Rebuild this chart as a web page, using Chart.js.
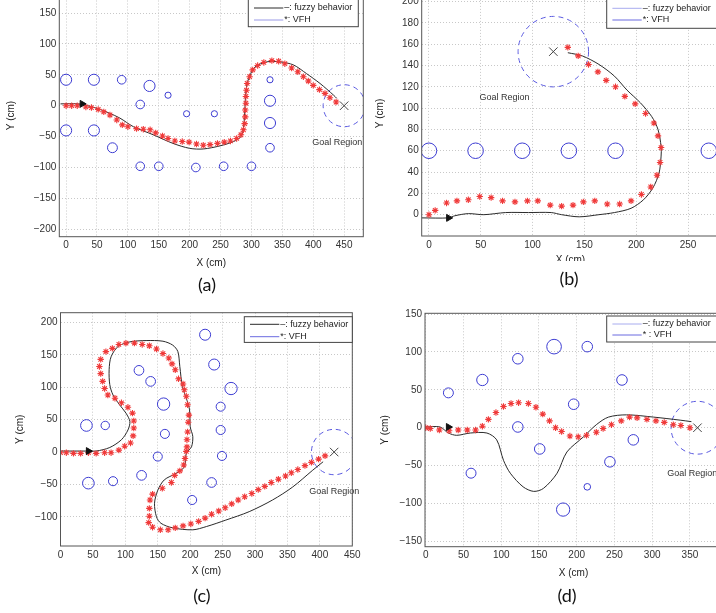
<!DOCTYPE html>
<html>
<head>
<meta charset="utf-8">
<script src="https://cdn.jsdelivr.net/npm/chart.js@4.4.1/dist/chart.umd.min.js"></script>
<style>
  body { margin: 0; width: 716px; height: 613px; overflow: hidden; position: relative; background: #fff; }
  canvas { position: absolute; }
  .clip { position: absolute; overflow: hidden; }
  .cap { position: absolute; transform: translate(-50%, -50%); font-family: Lato, "Open Sans", sans-serif; font-size: 18px; color: #111; }
</style>
</head>
<body>
<canvas id="chartA" width="380" height="295" style="left:0;top:-15px"></canvas>
<div class="clip" style="left:370px;top:0;width:346px;height:261px">
  <canvas id="chartB" width="380" height="300" style="left:0;top:-20px"></canvas>
</div>
<canvas id="chartC" width="370" height="313" style="left:0;top:300px"></canvas>
<canvas id="chartD" width="370" height="313" style="left:370px;top:300px"></canvas>
<div class="cap" style="left:207px;top:284px">(a)</div>
<div class="cap" style="left:569px;top:278px">(b)</div>
<div class="cap" style="left:202px;top:595px">(c)</div>
<div class="cap" style="left:567px;top:595px">(d)</div>

<script>
// ---------- panel (a) ----------
const xTicksA = [0, 50, 100, 150, 200, 250, 300, 350, 400, 450];
const yTicksA = [-200, -150, -100, -50, 0, 50, 100, 150];
const obstaclesA = [ // x, y, radius (cm)
    [0, 42, 9], [45, 42, 9], [90, 42, 7], [135, 32, 9], [165, 17, 5], [120, 2, 7],
    [0, -40, 9], [45, -40, 9], [75, -68, 8], [195, -13, 5], [240, -13, 5],
    [120, -98, 7], [150, -98, 7], [210, -100, 7], [255, -98, 7], [300, -98, 7],
    [330, 42, 5], [330, 8, 9], [330, -28, 9], [330, -68, 7]
];
const fuzzyA = [
    [-9, 3], [19, 3], [35, 0], [55, -6], [70, -12], [87, -20], [109, -34], [141, -47],
    [173, -61], [200, -69], [222, -70], [249, -65], [271, -58], [283, -50], [287, -37],
    [289, -12], [290, 9], [292, 31], [297, 48], [306, 63], [325, 71], [346, 71],
    [368, 66], [389, 52], [411, 36], [433, 17], [438, 12]
];
const vfhA = [
    [0, 0], [9, 0], [18, 0], [32, -2], [41, -3], [52, -6], [61, -10], [71, -15], [82, -23],
    [91, -31], [100, -34], [114, -37], [125, -38], [136, -39], [145, -44], [156, -49],
    [165, -53], [176, -57], [188, -58], [199, -59], [211, -62], [222, -64], [233, -63],
    [245, -61], [256, -59], [266, -57], [276, -53], [283, -47], [287, -39], [289, -29],
    [290, -18], [290, -7], [291, 4], [291, 15], [292, 25], [293, 36], [297, 47], [302, 58],
    [310, 65], [320, 70], [333, 73], [344, 72], [354, 68], [365, 61], [375, 55], [384, 47],
    [392, 40], [400, 33], [410, 26], [419, 20], [427, 13], [437, 6]
];
const goalA = [450, 0, 34];       // centre x, centre y, radius
const startA = [26, 3];
const goalLabelA = [439, -60];

// ---------- panel (b) ----------
const xTicksB = [0, 50, 100, 150, 200, 250, 300];
const yTicksB = [0, 20, 40, 60, 80, 100, 120, 140, 160, 180, 200];
const obstaclesB = [[0, 60, 7.5], [45, 60, 7.5], [90, 60, 7.5], [135, 60, 7.5], [180, 60, 7.5], [270, 60, 7.5]];
const fuzzyB = [
    [-7, -3], [19, -3], [25, -1], [38, 1], [53, 0], [74, 2], [96, 2], [118, 2], [128, 0],
    [145, -2], [164, 0], [179, 2], [195, 6], [207, 14], [216, 25], [222, 39], [224, 55],
    [224, 64], [221, 80], [215, 92], [204, 105], [191, 117], [179, 130], [164, 141],
    [148, 149], [134, 152]
];
const vfhB = [
    [0, 0], [6, 4], [17, 11], [27, 13], [38, 14], [49, 17], [60, 16], [71, 13], [83, 12],
    [95, 13], [105, 13], [117, 9], [128, 8], [139, 9], [149, 12], [160, 13], [172, 10],
    [184, 10], [195, 13], [205, 19], [214, 26], [220, 37], [223, 49], [224, 63], [221, 74],
    [217, 86], [209, 95], [199, 104], [189, 111], [180, 120], [171, 126], [163, 134],
    [154, 141], [144, 149], [134, 157]
];
const goalB = [120, 153, 34];
const startB = [19, -3];
const goalLabelB = [73, 110];

// ---------- panel (c) ----------
const xTicksC = [0, 50, 100, 150, 200, 250, 300, 350, 400, 450];
const yTicksC = [-100, -50, 0, 50, 100, 150, 200];
const obstaclesC = [
    [40, 41, 9], [69, 41, 6.5], [43, -48, 9], [81, -45, 7], [121, 126, 7.5], [139, 109, 7.5],
    [159, 74, 9.5], [161, 28, 7], [150, -7, 7], [125, -36, 7.5], [203, -74, 7], [223, 181, 8.5],
    [237, 135, 8.5], [263, 98, 9.5], [247, 70, 7], [247, 34, 7], [249, -6, 7], [233, -47, 7.5]
];
const fuzzyC = [
    [0, 1.5], [40, 1.5], [55, 1.5], [76, 7], [94, 19], [104, 34], [107, 47], [101, 60],
    [91, 73], [81, 88], [76, 104], [75, 127], [78, 147], [89, 163], [107, 170], [132, 172],
    [158, 171], [173, 165], [181, 155], [184, 132], [188, 101], [195, 80], [199, 65],
    [200, 39], [204, 24], [202, 8], [194, -2], [191, -23], [178, -33], [160, -43],
    [150, -59], [145, -79], [148, -100], [155, -110], [173, -117], [204, -120], [225, -115],
    [255, -105], [291, -92], [327, -74], [358, -54], [389, -28], [405, -15]
];
const vfhC = [
    [0, -1], [9, -1], [20, -2], [31, -2], [43, -1], [55, -2], [68, -1], [78, -1], [90, 3],
    [99, 9], [108, 14], [112, 25], [113, 37], [113, 48], [111, 60], [104, 69], [94, 76],
    [84, 83], [73, 88], [68, 98], [65, 109], [62, 121], [60, 132], [62, 143], [70, 155],
    [80, 160], [90, 166], [101, 168], [114, 168], [126, 166], [137, 164], [148, 159],
    [158, 152], [167, 145], [172, 136], [177, 127], [182, 113], [189, 105], [191, 96],
    [194, 86], [196, 73], [198, 57], [197, 46], [196, 31], [195, 19], [195, 8], [194, 1],
    [192, -10], [190, -20], [184, -29], [176, -36], [171, -47], [157, -56], [142, -65],
    [138, -74], [137, -87], [137, -99], [136, -109], [142, -116], [154, -120], [166, -120],
    [177, -117], [189, -114], [201, -111], [213, -107], [223, -102], [233, -96], [244, -91],
    [254, -86], [264, -80], [274, -74], [284, -69], [295, -64], [305, -58], [315, -53],
    [325, -47], [336, -42], [347, -37], [356, -32], [366, -27], [377, -21], [387, -16],
    [398, -11], [408, -6]
];
const goalC = [422, 0, 35];
const startC = [43, 1.5];
const goalLabelC = [422, -61];

// ---------- panel (d) ----------
const xTicksD = [0, 50, 100, 150, 200, 250, 300, 350, 400];
const yTicksD = [-150, -100, -50, 0, 50, 100, 150];
const obstaclesD = [
    [30, 46, 6.6], [75, 63, 7.5], [122, 91, 7], [170, 107, 9.7], [214, 107, 7], [260, 63, 7],
    [196, 31, 7], [122, 1, 7], [151, -28, 7], [60, -60, 6.6], [182, -108, 8.8], [214, -78, 4.4],
    [244, -45, 7], [275, -16, 7]
];
const fuzzyD = [
    [0, 1], [19, 1], [30, -7], [41, -10], [59, -7], [81, -7], [94, -16], [103, -43],
    [112, -60], [129, -78], [143, -84], [156, -80], [174, -60], [187, -32], [209, -12],
    [226, 4], [242, 14], [266, 17], [302, 14], [337, 10], [352, 8]
];
const vfhD = [
    [0, 0], [6, -1], [18, -3], [31, -4], [43, -3], [55, -3], [66, -3], [75, 2], [83, 11],
    [93, 20], [103, 28], [113, 32], [123, 33], [136, 32], [146, 27], [155, 18], [164, 9],
    [172, 0], [180, -5], [191, -11], [202, -12], [213, -10], [226, -6], [235, -1], [246, 4],
    [259, 9], [270, 14], [280, 13], [293, 11], [305, 9], [316, 7], [328, 4], [338, 3], [350, 0]
];
const goalD = [360, 0, 35];
const startD = [30, 1];
const goalLabelD = [353, -60];

const FONT = '"Liberation Sans", Arial, sans-serif';

function toPoints(list) {
    return list.map(p => ({ x: p[0], y: p[1] }));
}

// radius in cm -> pixels through the x scale
function cmToPx(chart, r) {
    const sx = chart.scales.x;
    return Math.abs(sx.getPixelForValue(r) - sx.getPixelForValue(0));
}

const decor = {
    id: 'decor',
    beforeDatasetsDraw(chart, args, o) {
        const { ctx, chartArea: a, scales: { x, y } } = chart;
        ctx.save();
        ctx.beginPath();
        ctx.rect(a.left, a.top, a.right - a.left, a.bottom - a.top);
        ctx.clip();
        // goal region (dashed circle)
        ctx.setLineDash([5, 4]);
        ctx.strokeStyle = '#5a5ae0';
        ctx.lineWidth = 1;
        ctx.beginPath();
        ctx.arc(x.getPixelForValue(o.goal[0]), y.getPixelForValue(o.goal[1]), cmToPx(chart, o.goal[2]), 0, Math.PI * 2);
        ctx.stroke();
        ctx.restore();
    },
    afterDraw(chart, args, o) {
        const { ctx, chartArea: a, scales: { x, y } } = chart;
        ctx.save();
        // "Goal Region" label
        ctx.font = '9px ' + FONT;
        ctx.fillStyle = '#333';
        ctx.textAlign = 'center';
        ctx.textBaseline = 'middle';
        ctx.fillText('Goal Region', x.getPixelForValue(o.goalLabel[0]), y.getPixelForValue(o.goalLabel[1]));

        // axes box
        ctx.strokeStyle = '#555';
        ctx.lineWidth = 1;
        ctx.strokeRect(a.left, a.top, a.right - a.left, a.bottom - a.top);

        // legend box
        const L = o.legend;
        ctx.fillStyle = '#fff';
        ctx.fillRect(L.x, L.y, L.w, L.h);
        ctx.strokeStyle = '#444';
        ctx.strokeRect(L.x, L.y, L.w, L.h);
        ctx.font = '9px ' + FONT;
        ctx.textAlign = 'left';
        ctx.fillStyle = '#222';
        L.rows.forEach((dy, i) => {
            ctx.strokeStyle = L.colors[i];
            ctx.beginPath();
            ctx.moveTo(L.x + 5.7, L.y + dy);
            ctx.lineTo(L.x + 35, L.y + dy);
            ctx.stroke();
            ctx.fillText(L.labels[i], L.x + 36, L.y + dy);
        });
        ctx.restore();
    }
};

function axis(range, ticks, title, size, vertical) {
    return {
        type: 'linear',
        min: range[0],
        max: range[1],
        afterBuildTicks: s => { s.ticks = ticks.map(v => ({ value: v })); },
        afterFit: s => { if (vertical) s.width = size; else s.height = size; },
        grid: { color: '#c8c8c8', lineWidth: 1, drawTicks: false },
        border: { display: false, dash: [1, 2] },
        ticks: {
            autoSkip: false, maxRotation: 0, padding: 3, color: '#333',
            font: { family: FONT, size: 10 },
            callback: v => String(v).replace('-', '\u2212')
        },
        title: { display: true, text: title, color: '#222', padding: 0, font: { family: FONT, size: 10 } }
    };
}

function buildPanel(id, p) {
    return new Chart(document.getElementById(id), {
        type: 'scatter',
        data: {
            datasets: [
                {   // start arrow
                    data: toPoints([p.start]),
                    pointStyle: 'triangle', rotation: 90, pointRadius: 4,
                    pointBackgroundColor: '#111', pointBorderColor: '#111', pointBorderWidth: 1
                },
                {   // VFH
                    data: toPoints(p.vfh),
                    pointStyle: 'star', pointRadius: 3.2,
                    pointBorderColor: '#f03a3a', pointBorderWidth: 1.1
                },
                {   // goal marker
                    data: toPoints([p.goal]),
                    pointStyle: 'crossRot', pointRadius: 6,
                    pointBorderColor: '#444', pointBorderWidth: 1
                },
                {   // fuzzy behavior
                    data: toPoints(p.fuzzy),
                    showLine: true, borderColor: '#2a2a2a', borderWidth: 1,
                    tension: 0.3, pointRadius: 0
                },
                {   // obstacles
                    data: p.obstacles.map(o => ({ x: o[0], y: o[1], r: o[2] })),
                    pointStyle: 'circle',
                    pointRadius: c => cmToPx(c.chart, c.raw.r),
                    pointBackgroundColor: 'rgba(0,0,0,0)',
                    pointBorderColor: '#3c3cd2', pointBorderWidth: 1
                }
            ]
        },
        options: {
            responsive: false,
            animation: false,
            events: [],
            layout: { padding: p.pad },
            scales: {
                x: axis(p.xRange, p.xTicks, 'X (cm)', p.xh, false),
                y: axis(p.yRange, p.yTicks, 'Y (cm)', p.yw, true)
            },
            plugins: {
                legend: { display: false },
                tooltip: { enabled: false },
                decor: { goal: p.goal, goalLabel: p.goalLabel, legend: p.legend }
            }
        },
        plugins: [decor]
    });
}

const legendText = ['\u2013: fuzzy behavior', '*: VFH'];

buildPanel('chartA', {
    xTicks: xTicksA, yTicks: yTicksA, obstacles: obstaclesA, fuzzy: fuzzyA, vfh: vfhA,
    goal: goalA, start: startA, goalLabel: goalLabelA,
    xRange: [-11, 481], yRange: [-212, 180],
    pad: { left: 5.7, right: 16.7, top: 9.5, bottom: 10.7 }, yw: 53.6, xh: 32.6,
    legend: { x: 248.3, y: 14, w: 110, h: 27.7, rows: [9, 21], labels: legendText, colors: ['#2a2a2a', '#9a9ae6'] }
});

buildPanel('chartB', {
    xTicks: xTicksB, yTicks: yTicksB, obstacles: obstaclesB, fuzzy: fuzzyB, vfh: vfhB,
    goal: goalB, start: startB, goalLabel: goalLabelB,
    xRange: [-7, 280], yRange: [-20, 210],
    pad: { left: 4.7, right: 17.4, top: 10.9, bottom: 14 }, yw: 47, xh: 30,
    legend: { x: 236.7, y: 19, w: 112, h: 29.3, rows: [9.3, 21], labels: legendText, colors: ['#a8acef', '#6a6ae0'] }
});

buildPanel('chartC', {
    xTicks: xTicksC, yTicks: yTicksC, obstacles: obstaclesC, fuzzy: fuzzyC, vfh: vfhC,
    goal: goalC, start: startC, goalLabel: goalLabelC,
    xRange: [0, 450], yRange: [-145, 215],
    pad: { left: 14.5, right: 17.7, top: 12.7, bottom: 35.3 }, yw: 46, xh: 31.7,
    legend: { x: 244.3, y: 16.7, w: 108, h: 25.7, rows: [7.6, 20], labels: legendText, colors: ['#2a2a2a', '#6a6ae0'] }
});

buildPanel('chartD', {
    xTicks: xTicksD, yTicks: yTicksD, obstacles: obstaclesD, fuzzy: fuzzyD, vfh: vfhD,
    goal: goalD, start: startD, goalLabel: goalLabelD,
    xRange: [-1, 392.5], yRange: [-157, 151],
    pad: { left: 9, right: 18, top: 13.3, bottom: 33.7 }, yw: 46, xh: 32.6,
    legend: { x: 236.7, y: 16, w: 112, h: 26, rows: [8, 19], labels: ['\u2013: fuzzy behavior', '* : VFH'], colors: ['#a8acef', '#6a6ae0'] }
});
</script>
</body>
</html>
